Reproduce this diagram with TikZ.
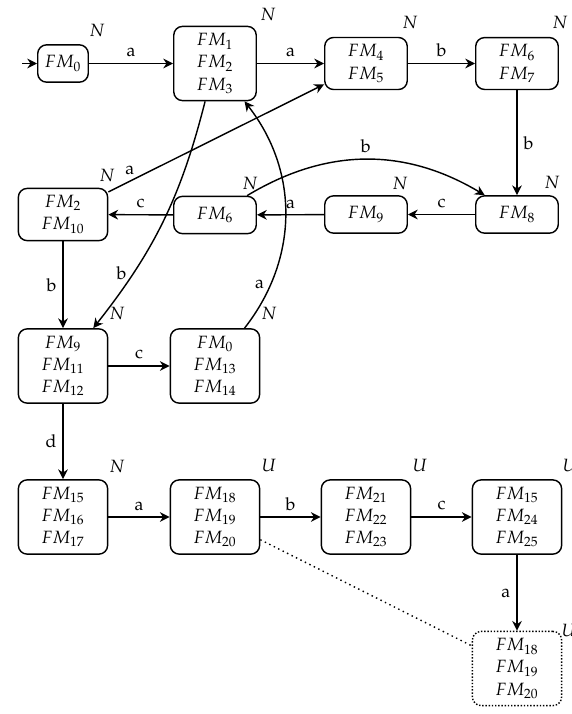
\documentclass[tikz,border=0pt]{standalone}
\usepackage[T1]{fontenc}
\usepackage{mathpazo}
\usetikzlibrary{arrows.meta}
\tikzset{
  st/.style={draw, line width=0.8pt, rounded corners=5pt, align=center,
    inner xsep=13pt, inner ysep=4pt, minimum height=21pt,
    font=\fontsize{10}{12.5}\selectfont},
  dst/.style={st, densely dotted, line width=0.8pt},
  tr/.style={line width=0.8pt, -{Stealth[length=5.5pt,width=5.5pt,inset=1.8pt]}},
  lab/.style={inner sep=0pt, font=\fontsize{10}{12}\selectfont},
  el/.style={font=\fontsize{10}{12}\selectfont}
}
\begin{document}
\begin{tikzpicture}[x=0.5627pt, y=0.5627pt]
\useasboundingbox (0,0) rectangle (572,-714);
% row 1
\node[st, inner xsep=4pt] (fm0) at (63,-63.5) {$FM_0$};
\node[st] (fm1) at (215,-63.5) {$FM_1$\\$FM_2$\\$FM_3$};
\node[st] (fm4) at (366,-63.5) {$FM_4$\\$FM_5$};
\node[st] (fm6) at (517,-63.5) {$FM_6$\\$FM_7$};
% row 2
\node[st] (fm8) at (517,-214.5) {$FM_8$};
\node[st] (fm9) at (366,-214.5) {$FM_9$};
\node[st] (fm6b) at (215,-215) {$FM_6$};
\node[st] (fm2) at (63,-214.5) {$FM_2$\\$FM_{10}$};
% row 3
\node[st] (fm9b) at (63,-366) {$FM_9$\\$FM_{11}$\\$FM_{12}$};
\node[st] (fm0b) at (215,-366) {$FM_0$\\$FM_{13}$\\$FM_{14}$};
% row 4
\node[st] (fm15) at (63,-517) {$FM_{15}$\\$FM_{16}$\\$FM_{17}$};
\node[st] (fm18) at (215,-517) {$FM_{18}$\\$FM_{19}$\\$FM_{20}$};
\node[st] (fm21) at (366,-517) {$FM_{21}$\\$FM_{22}$\\$FM_{23}$};
\node[st] (fm15b) at (517,-517) {$FM_{15}$\\$FM_{24}$\\$FM_{25}$};
% row 5
\node[dst] (fm18b) at (517,-668.5) {$FM_{18}$\\$FM_{19}$\\$FM_{20}$};

% state labels
\node[lab] (l0) at (97,-30) {$N$};
\node[lab] (l1) at (268,-14) {$N$};
\node[lab] (l4) at (410,-22) {$N$};
\node[lab] (l6) at (560,-22) {$N$};
\node[lab] (l8) at (552,-182) {$N$};
\node[lab] (l9) at (400,-183) {$N$};
\node[lab] (l6b) at (250,-183) {$N$};
\node[lab] (l2) at (107,-175) {$N$};
\node[lab] (l9b) at (117,-313) {$N$};
\node[lab] (l0b) at (269,-313) {$N$};
\node[lab] (l15) at (117,-466) {$N$};
\node[lab] (l18) at (269,-466) {$U$};
\node[lab] (l21) at (420,-466) {$U$};
\node[lab] (l15b) at (570,-466) {$U$};
\node[lab] (l18b) at (569,-631) {$U$};

% transitions
\coordinate (init) at (22,-63.5);
\draw[tr] (init) -- (fm0);
\draw[tr] (fm0) -- node[el, above] {a} (fm1);
\draw[tr] (fm1) -- node[el, above] {a} (fm4);
\draw[tr] (fm4) -- node[el, above] {b} (fm6);
\draw[tr] (fm6) -- node[el, right] {b} (fm8);
\draw[tr] (fm8) -- node[el, above] {c} (fm9);
\draw[tr] (fm9) -- node[el, above] {a} (fm6b);
\draw[tr] (fm6b) -- node[el, above] {c} (fm2);
\draw[tr] (fm6b) to[bend left=31] node[el, above] {b} (fm8);
\draw[tr] (fm2) -- node[el, pos=0.1, above] {a} (fm4);
\draw[tr] (fm1) to[bend left=12] node[el, pos=0.75, left] {b} (fm9b);
\draw[tr] (fm0b) to[bend right=38] node[el, pos=0.2, left] {a} (fm1);
\draw[tr] (fm2) -- node[el, left] {b} (fm9b);
\draw[tr] (fm9b) -- node[el, above] {c} (fm0b);
\draw[tr] (fm9b) -- node[el, left] {d} (fm15);
\draw[tr] (fm15) -- node[el, above] {a} (fm18);
\draw[tr] (fm18) -- node[el, above] {b} (fm21);
\draw[tr] (fm21) -- node[el, above] {c} (fm15b);
\draw[tr] (fm15b) -- node[el, left] {a} (fm18b);
\draw[dotted, line width=0.8pt] (fm18) -- (fm18b);
\end{tikzpicture}
\end{document}
